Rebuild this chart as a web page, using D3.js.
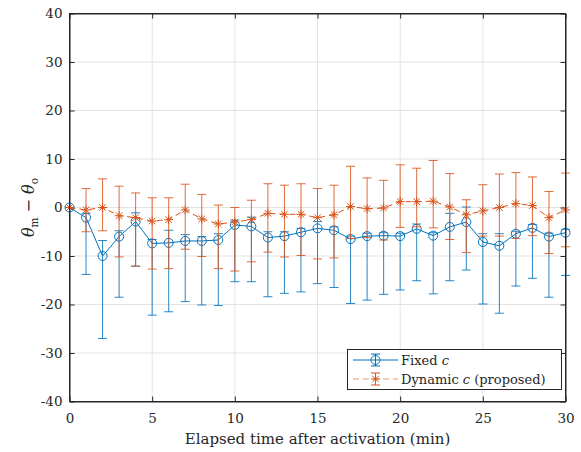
<!DOCTYPE html>
<html>
<head>
<meta charset="utf-8">
<script src="https://cdn.jsdelivr.net/npm/d3@7"></script>
<style>
  body { margin: 0; background: #fff; }
  svg text { font-family: 'DejaVu Serif', serif !important; fill: #262626; }
</style>
</head>
<body>
<script>
// Minutes after activation
var minutes = d3.range(0, 31);

// Fixed c : mean, upper and lower ends of the error bars
var fixedMean  = [0, -2.1, -10.0, -6.0, -2.9, -7.4, -7.3, -6.9, -6.9, -6.7, -3.6, -3.9, -6.2, -5.9, -5.1, -4.3,
                  -4.7, -6.5, -5.9, -5.8, -5.9, -4.4, -5.8, -4.0, -3.0, -7.1, -7.9, -5.4, -4.2, -6.0, -5.2];
var fixedUpper = [0, -1.2, -6.8, -4.8, -1.1, -6.6, -4.7, -5.6, -6.0, -5.4, -2.6, -2.0, -5.0, -5.0, -4.3, -2.9,
                  -4.0, -5.9, -5.3, -5.2, -5.3, -3.4, -5.2, -1.2, 0.1, -5.4, -5.4, -4.9, -3.5, -5.3, -4.5];
var fixedLower = [0, -13.8, -27.0, -18.5, -12.1, -22.2, -21.5, -19.4, -20.1, -20.2, -15.3, -15.3, -18.4, -17.7, -17.4, -15.7,
                  -16.5, -19.8, -19.1, -17.9, -17.0, -15.1, -17.8, -15.1, -12.9, -19.9, -21.8, -16.2, -14.6, -18.5, -14.0];

// Dynamic c (proposed)
var dynMean  = [0, -0.5, 0, -1.7, -2.1, -2.8, -2.5, -0.5, -2.35, -3.4, -3.0, -2.5, -1.2, -1.4, -1.4, -2.1,
                -1.5, 0.2, -0.25, -0.1, 1.2, 1.2, 1.3, 0.1, -1.5, -0.7, 0.0, 0.8, 0.4, -2.1, -0.5];
var dynUpper = [0, 3.9, 5.9, 4.4, 3.0, 2.0, 2.0, 4.8, 2.7, 0.5, 0.0, 1.5, 4.9, 4.6, 4.9, 3.9,
                4.6, 8.5, 6.1, 5.6, 8.8, 8.1, 9.7, 7.0, 1.6, 4.7, 6.9, 7.2, 6.3, 3.3, 7.1];
var dynLower = [0, -5.0, -4.8, -10.2, -12.1, -12.7, -12.6, -8.6, -10.1, -12.6, -13.1, -11.2, -9.2, -10.2, -9.9, -10.6,
                -10.4, -6.4, -6.2, -6.7, -4.1, -4.0, -4.2, -6.6, -9.3, -5.9, -5.9, -6.4, -5.8, -9.5, -8.1];

var xTicks = [0, 5, 10, 15, 20, 25, 30];
var yTicks = [-40, -30, -20, -10, 0, 10, 20, 30, 40];

var blue = "#0072BD";
var orange = "#D95319";

var width = 581, height = 452;
var svg = d3.select("body").append("svg")
    .attr("width", width)
    .attr("height", height);

var xScale = d3.scaleLinear().domain([0, 30]).range([69.5, 565.5]);
var yScale = d3.scaleLinear().domain([-40, 40]).range([401.5, 13.5]);

// grid
svg.append("g").selectAll("line").data(xTicks.slice(1, -1)).enter().append("line")
    .attr("x1", d => xScale(d)).attr("x2", d => xScale(d))
    .attr("y1", yScale(-40)).attr("y2", yScale(40))
    .attr("stroke", "#e3e3e3");
svg.append("g").selectAll("line").data(yTicks.slice(1, -1)).enter().append("line")
    .attr("x1", xScale(0)).attr("x2", xScale(30))
    .attr("y1", d => yScale(d)).attr("y2", d => yScale(d))
    .attr("stroke", "#e3e3e3");

// axes (ticks inside)
var fmt = d => String(d);
svg.append("g")
    .attr("transform", "translate(0," + yScale(-40) + ")")
    .call(d3.axisBottom(xScale).tickValues(xTicks).tickSizeInner(-5).tickSizeOuter(0).tickPadding(12).tickFormat(fmt));
svg.append("g")
    .attr("transform", "translate(0," + yScale(40) + ")")
    .call(d3.axisTop(xScale).tickValues(xTicks).tickSizeInner(-5).tickSizeOuter(0).tickFormat(""));
svg.append("g")
    .attr("transform", "translate(" + xScale(0) + ",0)")
    .call(d3.axisLeft(yScale).tickValues(yTicks).tickSizeInner(-5).tickSizeOuter(0).tickPadding(7).tickFormat(fmt));
svg.append("g")
    .attr("transform", "translate(" + xScale(30) + ",0)")
    .call(d3.axisRight(yScale).tickValues(yTicks).tickSizeInner(-5).tickSizeOuter(0).tickFormat(""));

svg.selectAll(".domain").attr("stroke", "#262626");
svg.selectAll(".tick line").attr("stroke", "#262626");
svg.selectAll(".tick text")
    .attr("font-size", 13.5)
    .attr("fill", "#262626");

// error bar series
function drawSeries(mean, upper, lower, color, dashed, marker) {
    var g = svg.append("g");
    var line = d3.line().x((d, i) => xScale(minutes[i])).y(d => yScale(d));
    g.append("path")
        .datum(mean)
        .attr("d", line)
        .attr("fill", "none")
        .attr("stroke", color)
        .attr("stroke-width", 1)
        .attr("stroke-dasharray", dashed ? "6,4" : null);

    var bars = g.selectAll(".bar").data(minutes).enter().append("g").attr("class", "bar")
        .attr("stroke", color).attr("stroke-opacity", 0.85);
    bars.append("line")
        .attr("x1", d => xScale(d)).attr("x2", d => xScale(d))
        .attr("y1", (d, i) => yScale(upper[i])).attr("y2", (d, i) => yScale(lower[i]));
    bars.append("line")
        .attr("x1", d => xScale(d) - 4.5).attr("x2", d => xScale(d) + 4.5)
        .attr("y1", (d, i) => yScale(upper[i])).attr("y2", (d, i) => yScale(upper[i]));
    bars.append("line")
        .attr("x1", d => xScale(d) - 4.5).attr("x2", d => xScale(d) + 4.5)
        .attr("y1", (d, i) => yScale(lower[i])).attr("y2", (d, i) => yScale(lower[i]));

    var m = g.selectAll(".mk").data(minutes).enter().append("g")
        .attr("transform", (d, i) => "translate(" + xScale(d) + "," + yScale(mean[i]) + ")");
    marker(m, color);
}

function circleMarker(sel, color) {
    sel.append("circle").attr("r", 4.5).attr("fill", "none").attr("stroke", color);
}
function starMarker(sel, color) {
    var r = 4.5, k = r * 0.72;
    sel.append("path")
        .attr("d", "M" + (-r) + ",0L" + r + ",0M0," + (-r) + "L0," + r +
                   "M" + (-k) + "," + (-k) + "L" + k + "," + k + "M" + (-k) + "," + k + "L" + k + "," + (-k))
        .attr("stroke", color).attr("fill", "none");
}

drawSeries(fixedMean, fixedUpper, fixedLower, blue, false, circleMarker);
drawSeries(dynMean, dynUpper, dynLower, orange, true, starMarker);

// box on top
svg.append("rect")
    .attr("x", xScale(0)).attr("y", yScale(40))
    .attr("width", xScale(30) - xScale(0)).attr("height", yScale(-40) - yScale(40))
    .attr("fill", "none").attr("stroke", "#262626");

// axis labels
svg.append("text")
    .attr("x", (xScale(0) + xScale(30)) / 2)
    .attr("y", 444)
    .attr("text-anchor", "middle")
    .attr("font-size", 15)
    .text("Elapsed time after activation (min)");

var yl = svg.append("text")
    .attr("transform", "translate(34," + yScale(0) + ") rotate(-90)")
    .attr("text-anchor", "middle")
    .attr("font-size", 16);
yl.append("tspan").attr("font-style", "italic").text("θ");
yl.append("tspan").attr("font-size", 10.5).attr("dy", 4).text("m");
yl.append("tspan").attr("dy", -4).text(" − ");
yl.append("tspan").attr("font-style", "italic").text("θ");
yl.append("tspan").attr("font-size", 10.5).attr("dy", 4).text("o");

// legend
var legend = svg.append("g");
legend.append("rect")
    .attr("x", 347.5).attr("y", 349.5).attr("width", 214).attr("height", 40)
    .attr("fill", "#fff").attr("stroke", "#262626");

var legendNames = [["Fixed ", "c", ""], ["Dynamic ", "c", " (proposed)"]];
var legendColors = [blue, orange];
var legendMarkers = [circleMarker, starMarker];
legendNames.forEach(function(n, i) {
    var y = 360 + i * 19;
    var row = legend.append("g");
    row.append("line").attr("x1", 353).attr("x2", 398).attr("y1", y).attr("y2", y)
        .attr("stroke", legendColors[i]).attr("stroke-dasharray", i ? "6,4" : null)
        .attr("stroke-opacity", i ? 0.6 : 1);
    var eb = row.append("g").attr("stroke", legendColors[i]);
    eb.append("line").attr("x1", 375.5).attr("x2", 375.5).attr("y1", y - 6).attr("y2", y + 6);
    eb.append("line").attr("x1", 371).attr("x2", 380).attr("y1", y - 6).attr("y2", y - 6);
    eb.append("line").attr("x1", 371).attr("x2", 380).attr("y1", y + 6).attr("y2", y + 6);
    legendMarkers[i](row.append("g").attr("transform", "translate(375.5," + y + ")"), legendColors[i]);
    var t = row.append("text").attr("x", 401).attr("y", y + 5).attr("font-size", 13);
    t.append("tspan").text(n[0]);
    t.append("tspan").attr("font-style", "italic").text(n[1]);
    t.append("tspan").text(n[2]);
});
</script>
</body>
</html>
